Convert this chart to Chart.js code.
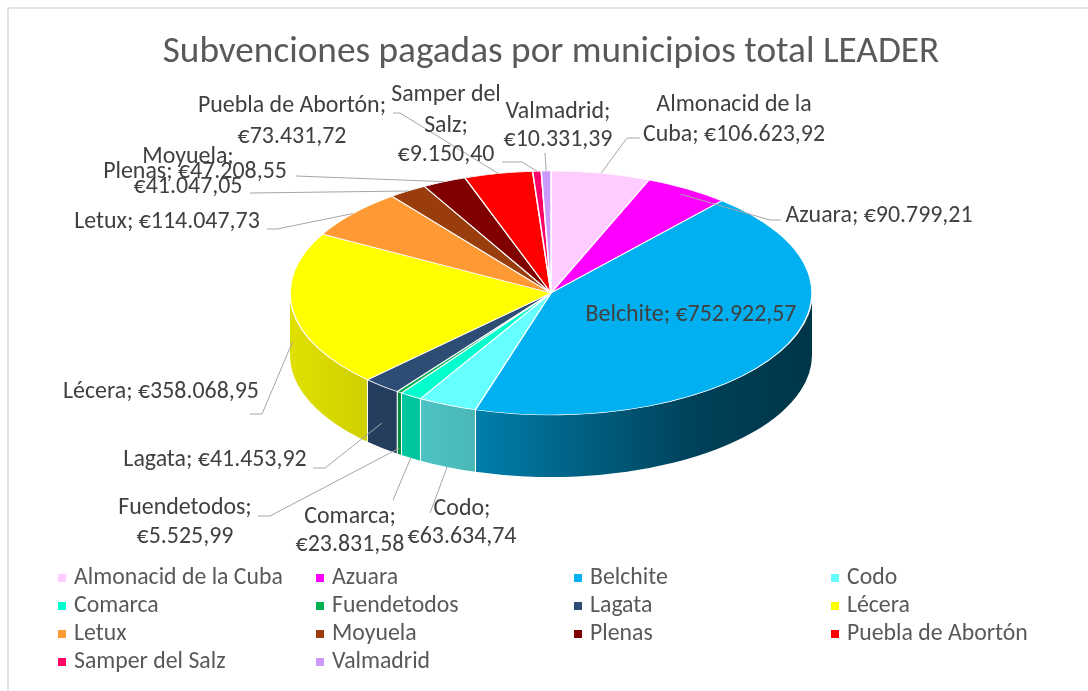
<!DOCTYPE html>
<html><head><meta charset="utf-8">
<script src="https://cdn.jsdelivr.net/npm/chart.js@4.4.1/dist/chart.umd.min.js"></script>
<style>html,body{margin:0;padding:0;background:#fff;}#wrap{position:relative;width:1088px;height:691px;}canvas{display:block;}</style>
</head><body><div id="wrap"><canvas id="c" width="1088" height="691"></canvas></div>
<script>
const titleText = 'Subvenciones pagadas por municipios total LEADER';
const municipios = ['Almonacid de la Cuba','Azuara','Belchite','Codo','Comarca','Fuendetodos','Lagata','Lécera','Letux','Moyuela','Plenas','Puebla de Abortón','Samper del Salz','Valmadrid'];
const subvenciones = [106623.92, 90799.21, 752922.57, 63634.74, 23831.58, 5525.99, 41453.92, 358068.95, 114047.73, 41047.05, 47208.55, 73431.72, 9150.40, 10331.39];
const sliceColors = ['#FFCCFF','#FF00FF','#00B0F0','#66FFFF','#00FFCC','#00B050','#2E4D75','#FFFF00','#FF9933','#993D0D','#800000','#FF0000','#FF0066','#CC99FF'];

// layout (positions/styles only)
const FAMILY = '"Carlito", "Lato", sans-serif';
const CX = 551, CY = 293, RX = 261, TILT = 122 / 261, DEPTH = 62;
const WALL_STOPS = [[0, 0.88], [0.35, 0.72], [0.55, 0.55], [0.78, 0.37], [1, 0.3]];
const labelLayout = [
  {x:734, y:[105,135], breaks:[3], from:[640,138], elbow:[627,138], r:1, d:0},
  {x:879, y:[216], breaks:[], from:[781,220], elbow:[770,220], r:0.95, d:0},
  {x:691, y:[315], breaks:[], inside:true},
  {x:462, y:[509,537], breaks:[1], from:[430,513], r:1, d:1},
  {x:350, y:[517,545], breaks:[1], from:[393,500], r:1, d:1},
  {x:185, y:[508,537], breaks:[1], from:[258,516], elbow:[270,516], r:1, d:0.9},
  {x:215, y:[460], breaks:[], from:[313,468], elbow:[325,468], r:1, d:0.6},
  {x:161, y:[392], breaks:[], from:[250,414], elbow:[262,414], r:1, d:0.5},
  {x:167, y:[222], breaks:[], from:[267,229], elbow:[277,229], r:1, d:0},
  {x:188, y:[157,187], breaks:[1], from:[250,193], r:1, d:0},
  {x:195, y:[172], breaks:[], from:[296,176], r:1, d:0},
  {x:292, y:[106,137], breaks:[3], from:[393,113], elbow:[400,113], r:1, d:0},
  {x:446, y:[95,126,155], breaks:[2,3], from:[502,162], elbow:[522,162], r:1, d:0},
  {x:558, y:[112,140], breaks:[1], from:[545,153], r:1, d:0}
];
const legendCols = [74, 332, 590, 847];
const legendRows = [578, 606, 634, 662];

function euro(v){
  const parts = v.toFixed(2).split('.');
  return '€' + parts[0].replace(/\B(?=(\d{3})+(?!\d))/g, '.') + ',' + parts[1];
}
function shade(hex, f){
  const n = parseInt(hex.slice(1), 16);
  const r = Math.round(((n >> 16) & 255) * f), g = Math.round(((n >> 8) & 255) * f), b = Math.round((n & 255) * f);
  return `rgb(${r},${g},${b})`;
}
function fitSize(ctx, text, target){
  ctx.font = `100px ${FAMILY}`;
  return 100 * target / ctx.measureText(text).width;
}
function wrapLines(text, breaks){
  const w = text.split(' ');
  const lines = []; let prev = 0;
  breaks.concat([w.length]).forEach(b => { lines.push(w.slice(prev, b).join(' ')); prev = b; });
  return lines;
}

const pie3d = {
  id: 'pie3d',
  beforeDraw(chart){
    const ctx = chart.ctx;
    ctx.save();
    ctx.fillStyle = '#fff';
    ctx.fillRect(0, 0, chart.width, chart.height);
    ctx.strokeStyle = '#D9D9D9';
    ctx.lineWidth = 1.5;
    ctx.strokeRect(8, 8, 1200, 800);
    ctx.restore();
  },
  beforeDatasetsDraw(chart){
    const ctx = chart.ctx;
    const arcs = chart.getDatasetMeta(0).data;
    const colors = chart.data.datasets[0].backgroundColor;
    arcs.forEach((arc, i) => {
      const rx = arc.outerRadius, ry = rx * TILT;
      const a = Math.max(arc.startAngle, 0), b = Math.min(arc.endAngle, Math.PI);
      if (b <= a) return;
      const g = ctx.createLinearGradient(CX - rx, 0, CX + rx, 0);
      WALL_STOPS.forEach(s => g.addColorStop(s[0], shade(colors[i], s[1])));
      ctx.beginPath();
      ctx.ellipse(CX, CY, rx, ry, 0, a, b);
      ctx.ellipse(CX, CY + DEPTH, rx, ry, 0, b, a, true);
      ctx.closePath();
      ctx.fillStyle = g;
      ctx.fill();
      ctx.strokeStyle = '#fff';
      ctx.lineWidth = 1;
      [a, b].forEach(t => {
        if (t <= 0.001 || t >= Math.PI - 0.001) return;
        const x = CX + rx * Math.cos(t), y = CY + ry * Math.sin(t);
        ctx.beginPath(); ctx.moveTo(x, y); ctx.lineTo(x, y + DEPTH); ctx.stroke();
      });
    });
    const el = arcs[0];
    ctx.save();
    ctx.translate(CX, CY);
    ctx.scale(1, TILT);
    ctx.translate(-el.x, -el.y);
  },
  afterDatasetsDraw(chart){
    chart.ctx.restore();
  },
  afterDraw(chart){
    const ctx = chart.ctx;
    const arcs = chart.getDatasetMeta(0).data;
    const labels = chart.data.labels;
    const values = chart.data.datasets[0].data;
    const colors = chart.data.datasets[0].backgroundColor;
    ctx.save();
    // title
    const ts = fitSize(ctx, titleText, 777);
    ctx.font = `${ts}px ${FAMILY}`;
    ctx.fillStyle = '#595959';
    ctx.textAlign = 'center';
    ctx.textBaseline = 'middle';
    ctx.fillText(titleText, 551, 53);
    // leaders
    ctx.strokeStyle = '#A6A6A6';
    ctx.lineWidth = 1;
    labelLayout.forEach((L, i) => {
      if (L.inside) return;
      const arc = arcs[i];
      const mid = (arc.startAngle + arc.endAngle) / 2;
      const rx = arc.outerRadius * L.r, ry = rx * TILT;
      const ex = CX + rx * Math.cos(mid), ey = CY + ry * Math.sin(mid) + DEPTH * L.d;
      ctx.beginPath();
      ctx.moveTo(L.from[0], L.from[1]);
      if (L.elbow) ctx.lineTo(L.elbow[0], L.elbow[1]);
      ctx.lineTo(ex, ey);
      ctx.stroke();
    });
    // data labels
    const ls = fitSize(ctx, 'Belchite; €752.922,57', 211);
    ctx.font = `${ls}px ${FAMILY}`;
    ctx.fillStyle = '#404040';
    labelLayout.forEach((L, i) => {
      const txt = labels[i] + '; ' + euro(values[i]);
      const lines = wrapLines(txt, L.breaks);
      lines.forEach((ln, k) => ctx.fillText(ln, L.x, L.y[k]));
    });
    // legend
    const gs = fitSize(ctx, 'Almonacid de la Cuba', 209);
    ctx.font = `${gs}px ${FAMILY}`;
    ctx.textAlign = 'left';
    labels.forEach((name, i) => {
      const col = i % 4, row = Math.floor(i / 4);
      const x = legendCols[col], y = legendRows[row];
      ctx.fillStyle = colors[i];
      ctx.fillRect(x - 16, y - 4, 8, 8);
      ctx.fillStyle = '#595959';
      ctx.fillText(name, x, y);
    });
    ctx.restore();
  }
};

new Chart(document.getElementById('c'), {
  type: 'pie',
  data: {
    labels: municipios,
    datasets: [{
      data: subvenciones,
      backgroundColor: sliceColors,
      borderColor: '#FFFFFF',
      borderWidth: 1.5,
      radius: RX,
      clip: false
    }]
  },
  options: {
    responsive: false,
    animation: false,
    devicePixelRatio: 1,
    layout: { padding: 0 },
    plugins: { legend: { display: false }, title: { display: false }, tooltip: { enabled: false } }
  },
  plugins: [pie3d]
});
</script>
</body></html>
